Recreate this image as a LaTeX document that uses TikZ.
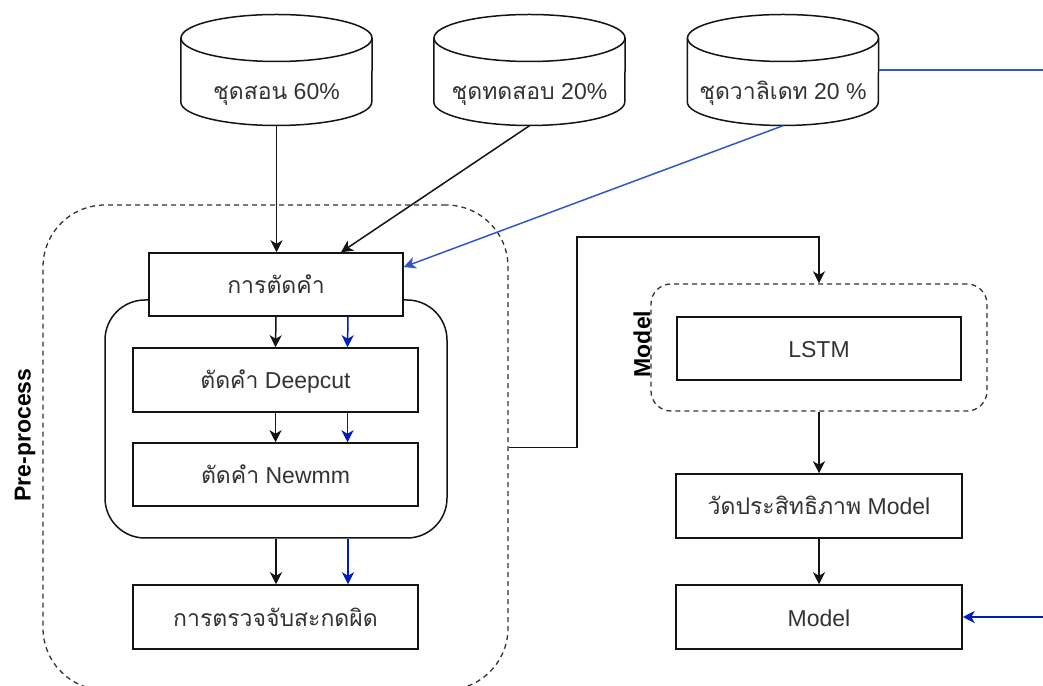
\documentclass[tikz,border=0pt]{standalone}
\usepackage{fontspec}
\setmainfont{Liberation Sans}
\newfontfamily\thai[Script=Thai]{Loma}
\usetikzlibrary{arrows.meta,calc}
\definecolor{ink}{RGB}{51,51,51}
\definecolor{edge}{RGB}{20,20,20}
\definecolor{flowblue}{RGB}{0,29,188}
\definecolor{feedblue}{RGB}{51,85,204}

% cylinder outline drawn around a named placeholder node
\newcommand\drumshape[1]{%
  \fill[white] ([yshift=32]#1.west) -- ([yshift=-32]#1.west)
    arc[start angle=180,end angle=360,x radius=95.5,y radius=23.5]
    -- ([yshift=32]#1.east)
    arc[start angle=0,end angle=180,x radius=95.5,y radius=23.5] -- cycle;
  \draw[drum] ([yshift=32]#1.west) -- ([yshift=-32]#1.west)
    arc[start angle=180,end angle=360,x radius=95.5,y radius=23.5]
    -- ([yshift=32]#1.east);
  \draw[drum] ([yshift=32]#1.center) ellipse[x radius=95.5,y radius=23.5];}

\begin{document}
\begin{tikzpicture}[x=1pt,y=1pt,
  lbl/.style={font=\fontsize{23}{27}\selectfont, text=ink, text height=18, text depth=0},
  procbox/.style={draw=edge, line width=1.5pt, fill=white, inner sep=0, lbl},
  drum/.style={draw=edge, line width=1.5pt},
  holder/.style={inner sep=0, minimum width=191, minimum height=111},
  tip/.style={-{Stealth[length=12pt,width=12pt,inset=3.5pt]}},
  arr/.style={draw=edge, line width=1.5pt, tip},
  barr/.style={draw=flowblue, line width=1.5pt, -{Stealth[length=12pt,width=12pt,inset=3.5pt,color=flowblue]}},
  farr/.style={draw=feedblue, line width=1.5pt, -{Stealth[length=12pt,width=12pt,inset=3.5pt,color=feedblue]}},
  zone/.style={draw=ink, line width=1.3pt, dash pattern=on 5pt off 4pt},
  caption/.style={font=\bfseries\fontsize{23}{27}\selectfont, text=black, rotate=90}]

\useasboundingbox (0,0) rectangle (1043,685);

% data sets
\node[holder] (c1) at (276.5,615) {};
\node[holder] (c2) at (529.5,615) {};
\node[holder] (c3) at (783,615) {};
\drumshape{c1}\drumshape{c2}\drumshape{c3}
\node[lbl] (t1) at (276.5,594) {{\thai ชุดสอน} 60\%};
\node[lbl] (t2) at (529.5,594) {{\thai ชุดทดสอบ} 20\%};
\node[lbl] (t3) at (783,594) {{\thai ชุดวาลิเดท} 20 \%};

% pre-process zone
\node[zone, rounded corners=62, minimum width=465, minimum height=485] (pre) at (275.5,237.5) {};
\node[caption] (prelbl) at (25,250) {Pre-process};
\node[draw=edge, line width=1.5pt, rounded corners=40, minimum width=342, minimum height=238] (grp) at (276,266) {};

\node[procbox, minimum width=254, minimum height=63] (cut) at (276,400.5) {\thai การตัดคำ};
\node[procbox, minimum width=285, minimum height=64] (deep) at (275.5,305) {{\thai ตัดคำ} Deepcut};
\node[procbox, minimum width=285, minimum height=63] (newmm) at (275.5,210.5) {{\thai ตัดคำ} Newmm};
\node[procbox, minimum width=285, minimum height=64] (spell) at (275.5,68) {\thai การตรวจจับสะกดผิด};

% model zone
\node[zone, rounded corners=20, minimum width=336, minimum height=127] (mgrp) at (819,337.5) {};
\node[caption] (mlbl) at (642,341) {Model};
\node[procbox, minimum width=284, minimum height=63] (lstm) at (819,336.5) {LSTM};
\node[procbox, minimum width=286, minimum height=64] (eval) at (819,179) {{\thai วัดประสิทธิภาพ} Model};
\node[procbox, minimum width=286, minimum height=64] (model) at (819,68) {Model};

\coordinate (turn) at (577,448);
\coordinate (outA) at (1043,615);
\coordinate (outB) at (1043,68);

% connectors
\draw[arr] (c1.south) -- (c1.south |- cut.north);
\draw[arr] (c2.south) -- ([xshift=65]cut.north);
\draw[farr] (c3.south) -- ([yshift=17.5]cut.east);
\draw[draw=feedblue, line width=1.5pt] (c3.east) -- (outA);

\draw[arr] (cut.south) -- (deep.north);
\draw[barr] ([xshift=72]cut.south) -- ([xshift=72]deep.north);
\draw[arr] (deep.south) -- (newmm.north);
\draw[barr] ([xshift=72]deep.south) -- ([xshift=72]newmm.north);
\draw[arr] (grp.south) -- (grp.south |- spell.north);
\draw[barr] ([xshift=72]grp.south) -- ([xshift=72]grp.south |- spell.north);

\draw[arr] (pre.east) -| (turn) -| (mgrp.north);
\draw[arr] (mgrp.south) -- (eval.north);
\draw[arr] (eval.south) -- (model.north);
\draw[barr] (outB) -- (model.east);
\end{tikzpicture}
\end{document}
